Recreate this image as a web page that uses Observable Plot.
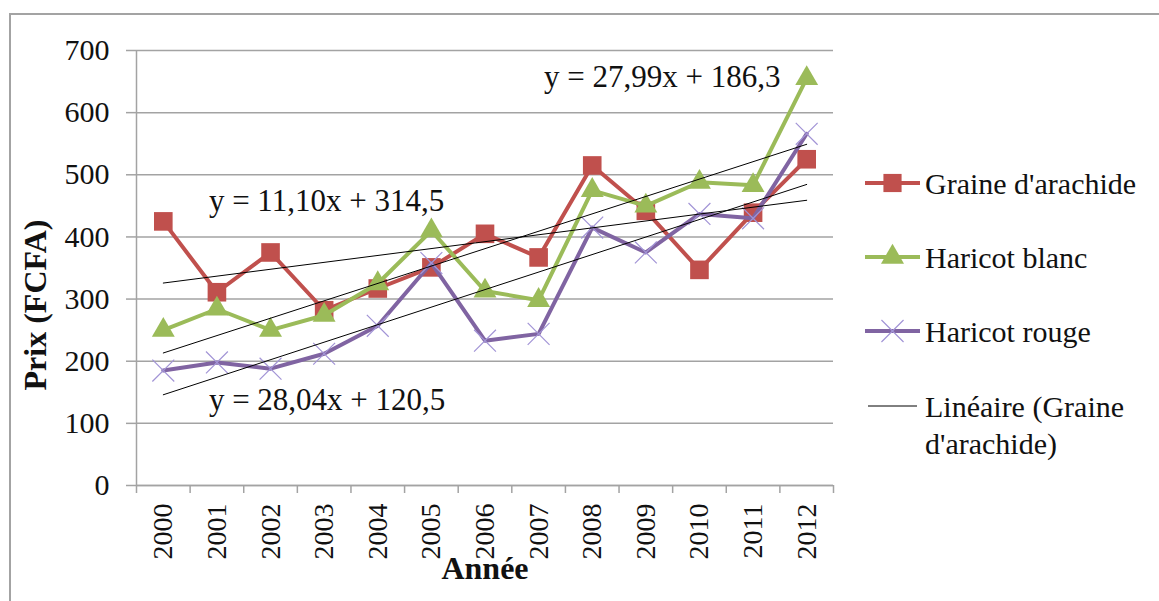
<!DOCTYPE html>
<html>
<head>
<meta charset="utf-8">
<script src="https://cdn.jsdelivr.net/npm/d3@7"></script>
<script src="https://cdn.jsdelivr.net/npm/@observablehq/plot@0.6"></script>
<style>
  html, body { margin: 0; padding: 0; background: #fff; }
  body { width: 1159px; height: 601px; overflow: hidden; position: relative; font-family: 'Liberation Serif', 'Times New Roman', serif; }
  #frame { position: absolute; left: 9px; top: 13px; width: 1300px; height: 800px; border-left: 2px solid #a3a3a3; border-top: 2px solid #a3a3a3; }
  #chart { position: absolute; left: 0; top: 0; }
  #legend { position: absolute; left: 0; top: 0; }
</style>
</head>
<body>
<div id="frame"></div>
<div id="chart"></div>
<svg id="legend" width="1159" height="601"></svg>
<script>
// ---- data ----
const years = [2000, 2001, 2002, 2003, 2004, 2005, 2006, 2007, 2008, 2009, 2010, 2011, 2012];
const seriesNames = ["Graine d'arachide", "Haricot blanc", "Haricot rouge"];
const graine = [425, 311, 375, 282, 317, 351, 405, 367, 515, 442, 347, 439, 525];
const blanc  = [250, 284, 250, 274, 325, 410, 313, 298, 475, 450, 488, 483, 655];
const rouge  = [185, 198, 188, 212, 257, 358, 233, 244, 415, 375, 437, 430, 566];
const yTicks = [0, 100, 200, 300, 400, 500, 600, 700];
const equationLabels = ["y = 11,10x + 314,5", "y = 28,04x + 120,5", "y = 27,99x + 186,3"];
const equationYear = [2000.85, 2000.85, 2007.1];
const equationValue = [458, 137, 657];
const yTitle = "Prix (FCFA)";
const xTitle = "Année";
const trendLegend = ["Linéaire (Graine", "d'arachide)"];

// ---- styles ----
const colors = ["#c0504d", "#9bbb59", "#8064a2"];
const gridColor = "#a3a3a3";
const font = "'Liberation Serif', 'Times New Roman', serif";

const seriesValues = [graine, blanc, rouge];
const data = seriesNames.flatMap((s, i) => years.map((yr, j) => ({series: s, year: yr, value: seriesValues[i][j]})));
const bySeries = seriesNames.map(s => data.filter(d => d.series === s));
const xBounds = [...years.map(y => y - 0.5), years[years.length - 1] + 0.5];
const annotations = equationLabels.map((label, i) => ({label, year: equationYear[i], value: equationValue[i]}));

const seriesMarks = (i) => {
  const marks = [Plot.line(bySeries[i], {x: "year", y: "value", stroke: colors[i], strokeWidth: 4, strokeLinejoin: "round"})];
  if (i === 0) marks.push(Plot.dot(bySeries[i], {x: "year", y: "value", symbol: "square", r: 10.5, fill: colors[i], stroke: "none"}));
  if (i === 1) marks.push(Plot.dot(bySeries[i], {x: "year", y: "value", symbol: "triangle", r: 8.5, fill: colors[i], stroke: "none"}));
  if (i === 2) marks.push(Plot.dot(bySeries[i], {x: "year", y: "value", symbol: "times", r: 10, stroke: "#a294d6", strokeWidth: 1.2, fill: "none"}));
  return marks;
};

const chart = Plot.plot({
  width: 860,
  height: 601,
  marginLeft: 136,
  marginRight: 27,
  marginTop: 50,
  marginBottom: 116,
  x: {type: "linear", domain: [xBounds[0], xBounds[xBounds.length - 1]], axis: null},
  y: {domain: [0, 700], axis: null},
  style: {fontFamily: font, color: "#111", background: "transparent", overflow: "visible"},
  marks: [
    Plot.gridY(yTicks, {stroke: gridColor, strokeOpacity: 1, strokeWidth: 1.5}),
    Plot.ruleX([xBounds[0]], {stroke: gridColor, strokeWidth: 1.5}),
    Plot.ruleY([0], {stroke: gridColor, strokeWidth: 1.5}),
    Plot.axisY(yTicks, {tickSize: 10, tickPadding: 17, fontSize: 30, stroke: gridColor, strokeWidth: 1.5, label: null, tickFormat: d => String(d)}),
    Plot.axisX(xBounds, {tickSize: 8, stroke: gridColor, strokeWidth: 1.5, label: null, tickFormat: () => ""}),
    Plot.axisX(years, {tickSize: 0, tickPadding: 18, tickRotate: -90, fontSize: 28, label: null, tickFormat: d => String(d)}),
    ...seriesMarks(0),
    ...seriesMarks(1),
    ...seriesMarks(2),
    Plot.linearRegressionY(data, {x: "year", y: "value", z: "series", stroke: "#000", strokeWidth: 1, ci: 0}),
    Plot.text(annotations, {x: "year", y: "value", text: "label", textAnchor: "start", fontSize: 31, fill: "#111"}),
    Plot.text([yTitle], {frameAnchor: "left", textAnchor: "middle", dx: -101, dy: 37, rotate: -90, fontSize: 32, fontWeight: "bold", fill: "#111"}),
    Plot.text([xTitle], {frameAnchor: "bottom", dy: 93, fontSize: 32, fontWeight: "bold", fill: "#111"})
  ]
});
document.getElementById("chart").appendChild(chart);

// ---- legend ----
const legend = d3.select("#legend");
const lx0 = 865, lx1 = 920, tx = 925;
const rowY = [183, 257, 331, 406];
const symbolTypes = [d3.symbolSquare, d3.symbolTriangle, d3.symbolTimes];
const symbolSizes = [330, 230, 320];
seriesNames.forEach((name, i) => {
  const g = legend.append("g");
  g.append("line").attr("x1", lx0).attr("x2", lx1).attr("y1", rowY[i]).attr("y2", rowY[i])
    .attr("stroke", colors[i]).attr("stroke-width", 4);
  const p = g.append("path").attr("d", d3.symbol(symbolTypes[i], symbolSizes[i])())
    .attr("transform", `translate(${(lx0 + lx1) / 2},${rowY[i]})`);
  if (i < 2) p.attr("fill", colors[i]);
  else p.attr("fill", "none").attr("stroke", "#a294d6").attr("stroke-width", 1.2);
  g.append("text").attr("x", tx).attr("y", rowY[i]).attr("dy", "0.35em")
    .attr("font-family", font).attr("font-size", 30).attr("fill", "#111").text(name);
});
legend.append("line").attr("x1", lx0 + 3).attr("x2", lx1 - 3).attr("y1", rowY[3]).attr("y2", rowY[3])
  .attr("stroke", "#000").attr("stroke-width", 1);
trendLegend.forEach((t, k) => {
  legend.append("text").attr("x", tx).attr("y", rowY[3] + k * 37).attr("dy", "0.35em")
    .attr("font-family", font).attr("font-size", 30).attr("fill", "#111").text(t);
});
</script>
</body>
</html>
